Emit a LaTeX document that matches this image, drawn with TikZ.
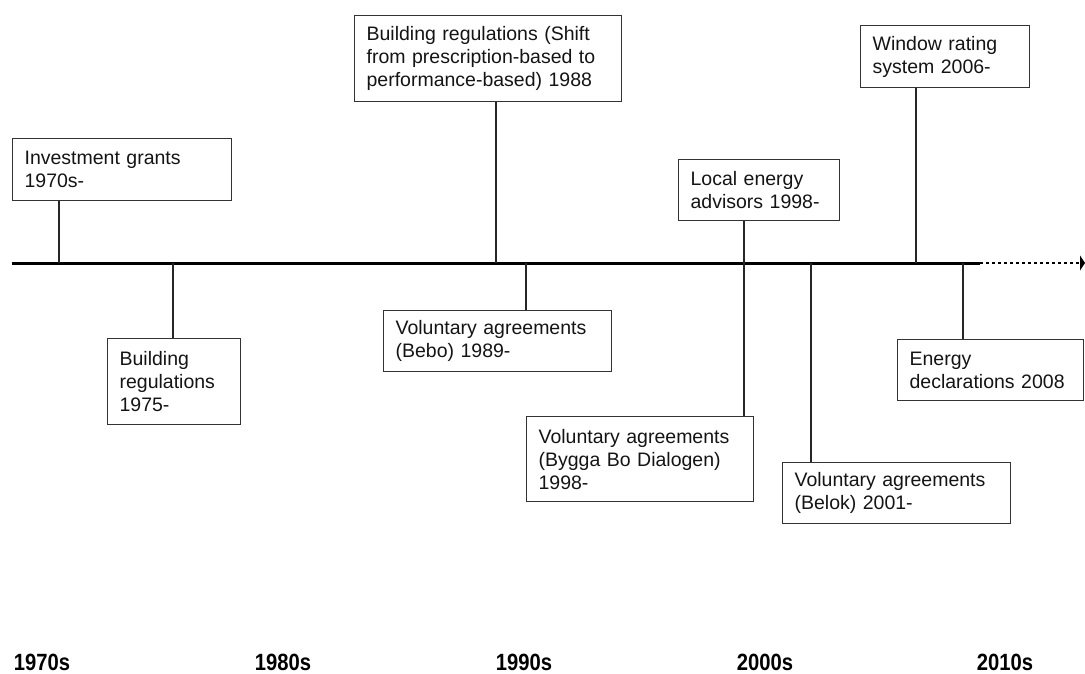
\documentclass[tikz,border=0pt]{standalone}
\usepackage{fontspec}
\setmainfont{Liberation Sans}
\newfontfamily\decfont[FakeStretch=0.86]{Liberation Sans}
\usetikzlibrary{arrows.meta}
\begin{document}
\begin{tikzpicture}[x=1pt, y=-1pt, every node/.style={font=\fontsize{19.5}{23}\selectfont, text=black!92},
  ev/.style={draw=black!80, line width=1.2pt, anchor=north west, inner xsep=12pt, inner ysep=0pt, align=left},
  stem/.style={draw=black!85, line width=1.1pt},
  dec/.style={font=\decfont\fontsize{23.5}{23.5}\selectfont\bfseries, text=black}]
\useasboundingbox (0,0) rectangle (1085,673);
\coordinate (t0) at (12,263);
\coordinate (t1) at (980,263);
\coordinate (t2) at (1085,263);
\draw[line width=3pt] (t0) -- (t1);
\draw[line width=2.5pt, dash pattern=on 3pt off 3pt, -{Triangle[length=5pt,width=15pt]}] (t1) -- (t2);
\node[ev, text width=195pt, minimum height=62pt] (inv) at (12,138) {Investment grants\\1970s-};
\node[ev, text width=109pt, minimum height=86pt] (br75) at (107,338) {Building\\regulations\\1975-};
\node[ev, text width=243pt, minimum height=86pt] (br88) at (354,15) {Building regulations (Shift\\from prescription-based to\\performance-based) 1988};
\node[ev, text width=204pt, minimum height=61pt] (bebo) at (383,310) {Voluntary agreements\\(Bebo) 1989-};
\node[ev, text width=137pt, minimum height=61pt] (lea) at (678,159) {Local energy\\advisors 1998-};
\node[ev, text width=203pt, minimum height=85pt] (bygga) at (526,416) {Voluntary agreements\\(Bygga Bo Dialogen)\\1998-};
\node[ev, text width=204pt, minimum height=61pt] (belok) at (782,462) {Voluntary agreements\\(Belok) 2001-};
\node[ev, text width=145pt, minimum height=62pt] (win) at (860,25) {Window rating\\system 2006-};
\node[ev, text width=162pt, minimum height=61pt] (edecl) at (897,339) {Energy\\declarations 2008};
\coordinate (p1) at (59,263);
\coordinate (p2) at (173,263);
\coordinate (p3) at (496,263);
\coordinate (p4) at (526,263);
\coordinate (p5) at (744,263);
\coordinate (p6) at (811,263);
\coordinate (p7) at (916,263);
\coordinate (p8) at (963,263);
\draw[stem] (inv.south -| p1) -- (p1);
\draw[stem] (p2) -- (br75.north -| p2);
\draw[stem] (br88.south -| p3) -- (p3);
\draw[stem] (p4) -- (bebo.north -| p4);
\draw[stem] (lea.south -| p5) -- (bygga.north -| p5);
\draw[stem] (p6) -- (belok.north -| p6);
\draw[stem] (win.south -| p7) -- (p7);
\draw[stem] (p8) -- (edecl.north -| p8);
\node[dec] (d70) at (42,662) {1970s};
\node[dec] (d80) at (283,662) {1980s};
\node[dec] (d90) at (524,662) {1990s};
\node[dec] (d00) at (765,662) {2000s};
\node[dec] (d10) at (1005,662) {2010s};
\end{tikzpicture}
\end{document}
